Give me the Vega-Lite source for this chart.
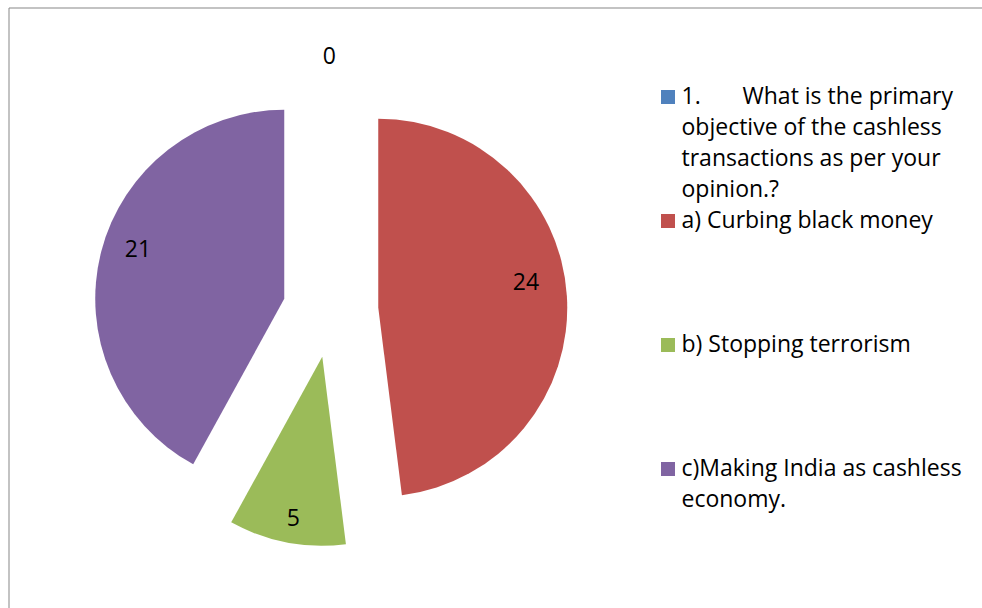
{
  "$schema": "https://vega.github.io/schema/vega-lite/v6.json",
  "width": 975.5,
  "height": 602.5,
  "autosize": {"type": "none"},
  "padding": {"left": 8.5, "top": 7.5, "right": -2, "bottom": -2},
  "background": "white",
  "view": {"stroke": "#878787", "strokeWidth": 1},
  "data": {
    "values": [
      {"category": "1. What is the primary objective of the cashless transactions as per your opinion.?", "value": 0},
      {"category": "a) Curbing black money", "value": 24},
      {"category": "b) Stopping terrorism", "value": 5},
      {"category": "c)Making India as cashless economy.", "value": 21}
    ]
  },
  "transform": [
    {"stack": "value", "groupby": [], "sort": [{"field": "category", "order": "ascending"}], "as": ["v0", "v1"]}
  ],
  "layer": [
    {
      "transform": [{"filter": {"field": "category", "equal": "a) Curbing black money"}}],
      "mark": {"type": "arc", "radius": 189, "xOffset": -118, "yOffset": -1},
      "encoding": {
        "theta": {"field": "v0", "type": "quantitative", "stack": null, "scale": {"domain": [0, 50]}},
        "theta2": {"field": "v1"},
        "color": {
          "field": "category", "type": "nominal",
          "scale": {
            "domain": ["1. What is the primary objective of the cashless transactions as per your opinion.?", "a) Curbing black money", "b) Stopping terrorism", "c)Making India as cashless economy."],
            "range": ["#4F81BD", "#C0504D", "#9BBB59", "#8064A2"]
          },
          "legend": {
            "orient": "none", "legendX": 648, "legendY": 78, "title": null, "padding": 0,
            "rowPadding": 7, "gridAlign": "all",
            "labelFont": "Open Sans", "labelFontSize": 23, "labelColor": "#000000", "labelLimit": 400,
            "labelOffset": 2, "labelBaseline": "alphabetic",
            "symbolType": "square", "symbolSize": 196, "symbolStrokeWidth": 0, "symbolOpacity": 1,
            "labelExpr": "datum.label == '1. What is the primary objective of the cashless transactions as per your opinion.?' ? ['1.\u00a0\u00a0\u00a0\u00a0\u00a0\u00a0\u00a0What is the primary', 'objective of the cashless', 'transactions as per your', 'opinion.?'] : datum.label == 'c)Making India as cashless economy.' ? ['c)Making India as cashless', 'economy.'] : datum.label",
            "encode": {"labels": {"update": {"dy": {"value": 7}, "lineHeight": {"value": 31}}}}
          }
        }
      }
    },
    {
      "transform": [{"filter": {"field": "category", "equal": "b) Stopping terrorism"}}],
      "mark": {"type": "arc", "radius": 189, "xOffset": -174, "yOffset": 48},
      "encoding": {
        "theta": {"field": "v0", "type": "quantitative", "stack": null},
        "theta2": {"field": "v1"},
        "color": {"field": "category", "type": "nominal"}
      }
    },
    {
      "transform": [{"filter": {"field": "category", "equal": "c)Making India as cashless economy."}}],
      "mark": {"type": "arc", "radius": 189, "xOffset": -212, "yOffset": -10},
      "encoding": {
        "theta": {"field": "v0", "type": "quantitative", "stack": null},
        "theta2": {"field": "v1"},
        "color": {"field": "category", "type": "nominal"}
      }
    },
    {
      "mark": {"type": "text", "radius": 248, "xOffset": -167, "yOffset": -4, "font": "Open Sans", "fontSize": 23, "color": "#000000"},
      "encoding": {
        "theta": {"field": "value", "type": "quantitative", "stack": true},
        "detail": {"field": "category", "type": "nominal"},
        "order": {"field": "category", "sort": "ascending"},
        "text": {"condition": {"test": "datum.category == '1. What is the primary objective of the cashless transactions as per your opinion.?'", "field": "value", "type": "quantitative"}, "value": ""}
      }
    },
    {
      "mark": {"type": "text", "radius": 149, "xOffset": -119, "yOffset": -16, "font": "Open Sans", "fontSize": 23, "color": "#000000"},
      "encoding": {
        "theta": {"field": "value", "type": "quantitative", "stack": true},
        "detail": {"field": "category", "type": "nominal"},
        "order": {"field": "category", "sort": "ascending"},
        "text": {"condition": {"test": "datum.category == 'a) Curbing black money'", "field": "value", "type": "quantitative"}, "value": ""}
      }
    },
    {
      "mark": {"type": "text", "radius": 165, "xOffset": -172, "yOffset": 48, "font": "Open Sans", "fontSize": 23, "color": "#000000"},
      "encoding": {
        "theta": {"field": "value", "type": "quantitative", "stack": true},
        "detail": {"field": "category", "type": "nominal"},
        "order": {"field": "category", "sort": "ascending"},
        "text": {"condition": {"test": "datum.category == 'b) Stopping terrorism'", "field": "value", "type": "quantitative"}, "value": ""}
      }
    },
    {
      "mark": {"type": "text", "radius": 150, "xOffset": -213, "yOffset": -21, "font": "Open Sans", "fontSize": 23, "color": "#000000"},
      "encoding": {
        "theta": {"field": "value", "type": "quantitative", "stack": true},
        "detail": {"field": "category", "type": "nominal"},
        "order": {"field": "category", "sort": "ascending"},
        "text": {"condition": {"test": "datum.category == 'c)Making India as cashless economy.'", "field": "value", "type": "quantitative"}, "value": ""}
      }
    }
  ]
}
